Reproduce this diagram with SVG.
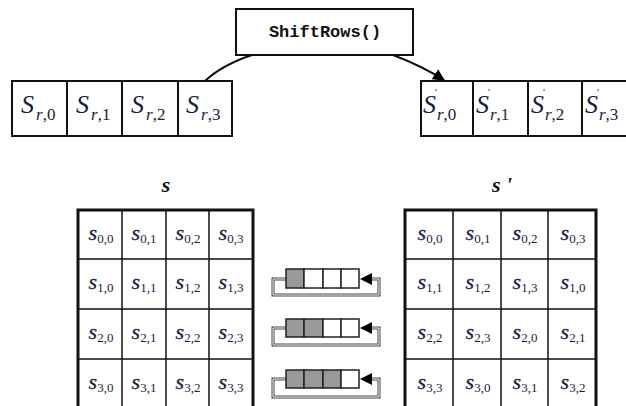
<svg xmlns="http://www.w3.org/2000/svg" width="626" height="406" viewBox="0 0 626 406">
<defs>
<marker id="arr3" viewBox="0 0 10 10" refX="9" refY="5" markerWidth="12" markerHeight="12" markerUnits="userSpaceOnUse" orient="auto">
<path d="M0,0 L10,5 L0,10 z" fill="#000"/>
</marker>
</defs>
<style>
.box{fill:#fff;stroke:#111;stroke-width:2}
.big{font-family:"Liberation Serif",serif;font-style:italic;font-size:26px;fill:#1a1c40}
.bsub{font-family:"Liberation Serif",serif;font-style:italic;font-size:17px;fill:#1a1c40}
.bsubn{font-family:"Liberation Serif",serif;font-style:normal;font-size:17px;fill:#1a1c40}
.prime{font-family:"Liberation Serif",serif;font-style:normal;font-size:11px;fill:#1a1c40}
.mono{font-family:"Liberation Mono",monospace;font-weight:bold;font-size:17px;fill:#111}
.cell{font-family:"Liberation Serif",serif;font-style:italic;font-size:22px;fill:#1a1c40;stroke:#1a1c40;stroke-width:0.3}
.csub{font-family:"Liberation Serif",serif;font-size:13px;fill:#1a1c40;font-style:normal;stroke:none}
.title{font-family:"Liberation Serif",serif;font-style:italic;font-weight:bold;font-size:22px;fill:#111}
.grid{stroke:#111;stroke-width:1.5;fill:none}
.outer{stroke:#111;stroke-width:3;fill:none}
.reg{stroke:#222;stroke-width:1.5}
.gray{fill:#999}
.white{fill:#fff}
.loopo{fill:none;stroke:#444;stroke-width:3}
.loopi{fill:none;stroke:#fff;stroke-width:1}
</style>
<rect width="626" height="406" fill="#fff"/>

<g id="shiftrows">
<rect class="box" x="236" y="9" width="177" height="46"/>
<text class="mono" x="325" y="37" text-anchor="middle">ShiftRows()</text>
</g>

<g id="connectors">
<path d="M252,55 Q222,65 205,81" fill="none" stroke="#111" stroke-width="2"/>
<path d="M393,55 Q422,66 444,80" fill="none" stroke="#111" stroke-width="2" marker-end="url(#arr3)"/>
</g>

<g id="row-in">
<rect class="box" x="12" y="81" width="55" height="55"/>
<rect class="box" x="67" y="81" width="55" height="55"/>
<rect class="box" x="122" y="81" width="56" height="55"/>
<rect class="box" x="178" y="81" width="54" height="55"/>
<text x="21" y="113"><tspan class="big">S</tspan><tspan class="bsub" dx="2" dy="7">r</tspan><tspan class="bsubn">,0</tspan></text>
<text x="76" y="113"><tspan class="big">S</tspan><tspan class="bsub" dx="2" dy="7">r</tspan><tspan class="bsubn">,1</tspan></text>
<text x="131" y="113"><tspan class="big">S</tspan><tspan class="bsub" dx="2" dy="7">r</tspan><tspan class="bsubn">,2</tspan></text>
<text x="186" y="113"><tspan class="big">S</tspan><tspan class="bsub" dx="2" dy="7">r</tspan><tspan class="bsubn">,3</tspan></text>
</g>

<g id="row-out">
<rect class="box" x="421" y="81" width="52" height="55"/>
<rect class="box" x="473" y="81" width="55" height="55"/>
<rect class="box" x="528" y="81" width="54" height="55"/>
<rect class="box" x="582" y="81" width="55" height="55"/>
<text x="423" y="113"><tspan class="big">S</tspan><tspan class="prime" dx="-1" dy="-17">'</tspan><tspan class="bsub" dx="0" dy="24">r</tspan><tspan class="bsubn">,0</tspan></text>
<text x="476" y="113"><tspan class="big">S</tspan><tspan class="prime" dx="-1" dy="-17">'</tspan><tspan class="bsub" dx="0" dy="24">r</tspan><tspan class="bsubn">,1</tspan></text>
<text x="531" y="113"><tspan class="big">S</tspan><tspan class="prime" dx="-1" dy="-17">'</tspan><tspan class="bsub" dx="0" dy="24">r</tspan><tspan class="bsubn">,2</tspan></text>
<text x="585" y="113"><tspan class="big">S</tspan><tspan class="prime" dx="-1" dy="-17">'</tspan><tspan class="bsub" dx="0" dy="24">r</tspan><tspan class="bsubn">,3</tspan></text>
</g>

<g id="state-s">
<text class="title" x="166" y="192" text-anchor="middle">s</text>
<rect x="78" y="210" width="175" height="200" fill="#fff"/>
<path class="grid" d="M122,210V406 M166,210V406 M209,210V406 M78,259H253 M78,309H253 M78,359H253"/>
<path class="outer" d="M78,406V210H253V406"/>
<g text-anchor="middle">
<text x="101" y="240"><tspan class="cell">s</tspan><tspan class="csub" dy="3">0,0</tspan></text>
<text x="144" y="240"><tspan class="cell">s</tspan><tspan class="csub" dy="3">0,1</tspan></text>
<text x="188" y="240"><tspan class="cell">s</tspan><tspan class="csub" dy="3">0,2</tspan></text>
<text x="231" y="240"><tspan class="cell">s</tspan><tspan class="csub" dy="3">0,3</tspan></text>
<text x="101" y="289"><tspan class="cell">s</tspan><tspan class="csub" dy="3">1,0</tspan></text>
<text x="144" y="289"><tspan class="cell">s</tspan><tspan class="csub" dy="3">1,1</tspan></text>
<text x="188" y="289"><tspan class="cell">s</tspan><tspan class="csub" dy="3">1,2</tspan></text>
<text x="231" y="289"><tspan class="cell">s</tspan><tspan class="csub" dy="3">1,3</tspan></text>
<text x="101" y="339"><tspan class="cell">s</tspan><tspan class="csub" dy="3">2,0</tspan></text>
<text x="144" y="339"><tspan class="cell">s</tspan><tspan class="csub" dy="3">2,1</tspan></text>
<text x="188" y="339"><tspan class="cell">s</tspan><tspan class="csub" dy="3">2,2</tspan></text>
<text x="231" y="339"><tspan class="cell">s</tspan><tspan class="csub" dy="3">2,3</tspan></text>
<text x="101" y="389"><tspan class="cell">s</tspan><tspan class="csub" dy="3">3,0</tspan></text>
<text x="144" y="389"><tspan class="cell">s</tspan><tspan class="csub" dy="3">3,1</tspan></text>
<text x="188" y="389"><tspan class="cell">s</tspan><tspan class="csub" dy="3">3,2</tspan></text>
<text x="231" y="389"><tspan class="cell">s</tspan><tspan class="csub" dy="3">3,3</tspan></text>
</g>
</g>

<g id="state-s-prime">
<text class="title" x="502" y="192" text-anchor="middle">s '</text>
<rect x="405" y="210" width="191" height="200" fill="#fff"/>
<path class="grid" d="M453,210V406 M501,210V406 M548,210V406 M405,259H596 M405,309H596 M405,359H596"/>
<path class="outer" d="M405,406V210H596V406"/>
<g text-anchor="middle">
<text x="430" y="240"><tspan class="cell">s</tspan><tspan class="csub" dy="3">0,0</tspan></text>
<text x="478" y="240"><tspan class="cell">s</tspan><tspan class="csub" dy="3">0,1</tspan></text>
<text x="525" y="240"><tspan class="cell">s</tspan><tspan class="csub" dy="3">0,2</tspan></text>
<text x="573" y="240"><tspan class="cell">s</tspan><tspan class="csub" dy="3">0,3</tspan></text>
<text x="430" y="289"><tspan class="cell">s</tspan><tspan class="csub" dy="3">1,1</tspan></text>
<text x="478" y="289"><tspan class="cell">s</tspan><tspan class="csub" dy="3">1,2</tspan></text>
<text x="525" y="289"><tspan class="cell">s</tspan><tspan class="csub" dy="3">1,3</tspan></text>
<text x="573" y="289"><tspan class="cell">s</tspan><tspan class="csub" dy="3">1,0</tspan></text>
<text x="430" y="339"><tspan class="cell">s</tspan><tspan class="csub" dy="3">2,2</tspan></text>
<text x="478" y="339"><tspan class="cell">s</tspan><tspan class="csub" dy="3">2,3</tspan></text>
<text x="525" y="339"><tspan class="cell">s</tspan><tspan class="csub" dy="3">2,0</tspan></text>
<text x="573" y="339"><tspan class="cell">s</tspan><tspan class="csub" dy="3">2,1</tspan></text>
<text x="430" y="389"><tspan class="cell">s</tspan><tspan class="csub" dy="3">3,3</tspan></text>
<text x="478" y="389"><tspan class="cell">s</tspan><tspan class="csub" dy="3">3,0</tspan></text>
<text x="525" y="389"><tspan class="cell">s</tspan><tspan class="csub" dy="3">3,1</tspan></text>
<text x="573" y="389"><tspan class="cell">s</tspan><tspan class="csub" dy="3">3,2</tspan></text>
</g>
</g>

<g id="shift-1">
<path class="loopo" d="M286,279H273V295H379V279H368"/>
<path class="loopi" d="M286,279H273V295H379V279H368"/>
<rect class="reg gray" x="286" y="269" width="18" height="19"/>
<rect class="reg white" x="304" y="269" width="19" height="19"/>
<rect class="reg white" x="323" y="269" width="18" height="19"/>
<rect class="reg white" x="341" y="269" width="18" height="19"/>
<path d="M360,279L372,273V285z" fill="#000"/>
</g>
<g id="shift-2">
<path class="loopo" d="M286,328H273V345H379V328H368"/>
<path class="loopi" d="M286,328H273V345H379V328H368"/>
<rect class="reg gray" x="286" y="319" width="18" height="18"/>
<rect class="reg gray" x="304" y="319" width="19" height="18"/>
<rect class="reg white" x="323" y="319" width="18" height="18"/>
<rect class="reg white" x="341" y="319" width="18" height="18"/>
<path d="M360,328L372,322V334z" fill="#000"/>
</g>
<g id="shift-3">
<path class="loopo" d="M286,379H273V397H379V379H368"/>
<path class="loopi" d="M286,379H273V397H379V379H368"/>
<rect class="reg gray" x="286" y="370" width="18" height="18"/>
<rect class="reg gray" x="304" y="370" width="19" height="18"/>
<rect class="reg gray" x="323" y="370" width="18" height="18"/>
<rect class="reg white" x="341" y="370" width="18" height="18"/>
<path d="M360,379L372,373V385z" fill="#000"/>
</g>
</svg>
